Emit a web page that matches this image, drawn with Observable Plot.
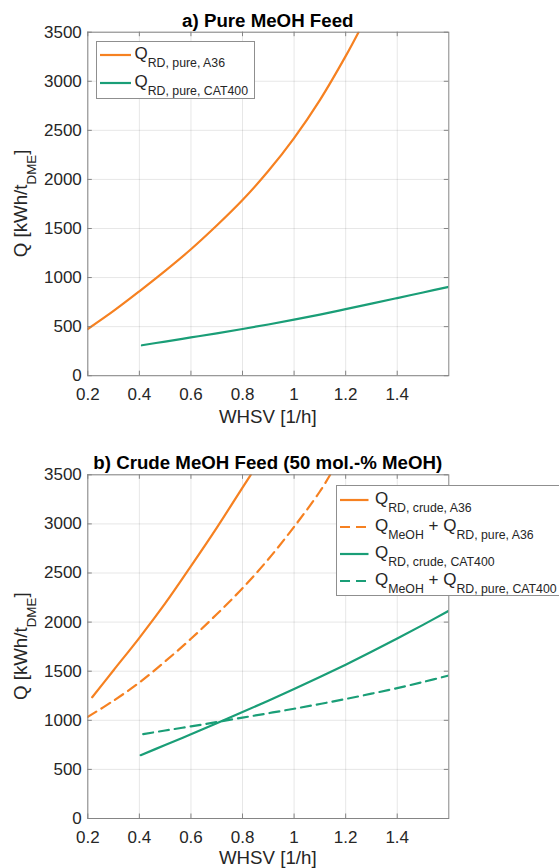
<!DOCTYPE html>
<html><head><meta charset="utf-8">
<script src="https://cdn.jsdelivr.net/npm/d3@7"></script>
<script src="https://cdn.jsdelivr.net/npm/@observablehq/plot@0.6"></script>
<style>
html,body{margin:0;padding:0;background:#fff;}
#root{position:relative;width:559px;height:868px;overflow:hidden;background:#fff;}
#root svg{position:absolute;left:0;}
</style></head><body><div id="root"></div>
<script>
// ---- axis ticks ----
const xDomain = [0.2, 1.6];
const yDomain = [0, 3500];
const xTicks = [0.2, 0.4, 0.6, 0.8, 1, 1.2, 1.4];
const yTicks = [0, 500, 1000, 1500, 2000, 2500, 3000, 3500];

// ---- text ----
const titleA = "a) Pure MeOH Feed";
const titleB = "b) Crude MeOH Feed (50 mol.-% MeOH)";
const xLabel = "WHSV [1/h]";
const yLabelParts = [["Q [kWh/t", 0], ["DME", 1], ["]", 0]];

// ---- panel a data ----
const pureA36_x = [0.2, 0.3, 0.4, 0.5, 0.6, 0.7, 0.8, 0.9, 1.0, 1.1, 1.2, 1.25];
const pureA36_q = [476, 660, 860, 1068, 1288, 1530, 1790, 2085, 2421, 2808, 3256, 3500];
const pureCAT_x = [0.41, 0.5, 0.6, 0.7, 0.8, 0.9, 1.0, 1.1, 1.2, 1.3, 1.4, 1.5, 1.6];
const pureCAT_q = [310, 348, 390, 432, 476, 522, 571, 623, 678, 734, 791, 848, 905];

// ---- panel b data ----
const crudeA36_x = [0.217, 0.3, 0.4, 0.5, 0.6, 0.7, 0.8, 0.832];
const crudeA36_q = [1235, 1510, 1840, 2190, 2570, 2960, 3370, 3500];
const sumA36_x = [0.2, 0.3, 0.4, 0.5, 0.6, 0.7, 0.8, 0.9, 1.0, 1.1, 1.14];
const sumA36_q = [1035, 1200, 1385, 1600, 1830, 2080, 2345, 2640, 2970, 3330, 3500];
const crudeCAT_x = [0.405, 0.5, 0.6, 0.7, 0.8, 0.9, 1.0, 1.1, 1.2, 1.3, 1.4, 1.5, 1.6];
const crudeCAT_q = [645, 748, 858, 970, 1084, 1200, 1318, 1440, 1566, 1697, 1833, 1972, 2115];
const sumCAT_x = [0.415, 0.5, 0.6, 0.7, 0.8, 0.9, 1.0, 1.1, 1.2, 1.3, 1.4, 1.5, 1.6];
const sumCAT_q = [860, 896, 938, 982, 1027, 1072, 1118, 1166, 1217, 1271, 1328, 1390, 1456];

// ---- legend labels ([text, isSubscript]) ----
const legA = [
  [["Q", 0], ["RD, pure, A36", 1]],
  [["Q", 0], ["RD, pure, CAT400", 1]]
];
const legB = [
  [["Q", 0], ["RD, crude, A36", 1]],
  [["Q", 0], ["MeOH", 1], [" + Q", 0], ["RD, pure, A36", 1]],
  [["Q", 0], ["RD, crude, CAT400", 1]],
  [["Q", 0], ["MeOH", 1], [" + Q", 0], ["RD, pure, CAT400", 1]]
];

const ORANGE = "#f68121";
const GREEN = "#1a9e77";
const FRAME = "#858585";
const TEXT = "#262626";
const FONT = '"Liberation Sans", Arial, Helvetica, sans-serif';
const DASH = "10,6";

const seriesA = [
  {x: pureA36_x, q: pureA36_q, color: ORANGE, dash: false},
  {x: pureCAT_x, q: pureCAT_q, color: GREEN, dash: false}
];
const seriesB = [
  {x: crudeA36_x, q: crudeA36_q, color: ORANGE, dash: false},
  {x: sumA36_x, q: sumA36_q, color: ORANGE, dash: true},
  {x: crudeCAT_x, q: crudeCAT_q, color: GREEN, dash: false},
  {x: sumCAT_x, q: sumCAT_q, color: GREEN, dash: true}
];

const W = 559, ML = 87.3, MR = 110.7;

function makePanel({height, marginTop, marginBottom, series}) {
  const plotH = height - marginTop - marginBottom;
  const plotW = W - ML - MR;
  const T = 4.5;
  return Plot.plot({
    width: W, height, marginLeft: ML, marginRight: MR, marginTop, marginBottom,
    x: {domain: xDomain},
    y: {domain: yDomain},
    style: {fontFamily: FONT, fontSize: "17px", color: TEXT, background: "transparent", overflow: "visible"},
    marks: [
      Plot.gridX(xTicks, {stroke: "#262626", strokeOpacity: 0.11}),
      Plot.gridY(yTicks, {stroke: "#262626", strokeOpacity: 0.11}),
      ...series.map(s => Plot.line(s.x.map((x, i) => ({x, q: s.q[i]})), {
        x: "x", y: "q", stroke: s.color, strokeWidth: 2.2,
        strokeDasharray: s.dash ? DASH : undefined, curve: "catmull-rom", clip: true
      })),
      Plot.tickX(xTicks, {x: d => d, insetTop: plotH - T, stroke: FRAME}),
      Plot.tickX(xTicks, {x: d => d, insetBottom: plotH - T, stroke: FRAME}),
      Plot.tickY(yTicks, {y: d => d, insetRight: plotW - T, stroke: FRAME}),
      Plot.tickY(yTicks, {y: d => d, insetLeft: plotW - T, stroke: FRAME}),
      Plot.frame({stroke: FRAME}),
      Plot.axisX(xTicks, {tickSize: 0, tickPadding: 12, label: null, tickFormat: d => String(d)}),
      Plot.axisY(yTicks, {tickSize: 0, tickPadding: 6, label: null, tickFormat: d => String(d)})
    ]
  });
}

const root = document.getElementById("root");
const pa = makePanel({height: 430, marginTop: 31.7, marginBottom: 54.8, series: seriesA});
pa.style.top = "0px";
root.appendChild(pa);
const pb = makePanel({height: 438, marginTop: 44.3, marginBottom: 50, series: seriesB});
pb.style.top = "430px";
root.appendChild(pb);

// ---- overlay texts & legends ----
const ov = d3.select(root).append("svg")
  .attr("width", W).attr("height", 868).style("top", "0px")
  .attr("font-family", FONT).style("white-space", "pre");

const cx = ML + (W - ML - MR) / 2;

function addRich(t, parts, mainSize, subSize, shift) {
  let down = false;
  parts.forEach(([s, sub]) => {
    const ts = t.append("tspan").text(s).attr("font-size", sub ? subSize : mainSize);
    if (sub && !down) { ts.attr("dy", shift); down = true; }
    else if (!sub && down) { ts.attr("dy", -shift); down = false; }
  });
}

[[titleA, 26.5], [titleB, 469]].forEach(([s, y]) => {
  ov.append("text").attr("x", cx).attr("y", y).attr("text-anchor", "middle")
    .attr("font-size", 18.7).attr("font-weight", "bold").attr("fill", "#000").text(s);
});
[423, 864].forEach(y => {
  ov.append("text").attr("x", cx).attr("y", y).attr("text-anchor", "middle")
    .attr("font-size", 18.7).attr("fill", TEXT).text(xLabel);
});
[203.4, 646.2].forEach(yc => {
  const t = ov.append("text").attr("transform", `translate(26.5,${yc}) rotate(-90)`)
    .attr("text-anchor", "middle").attr("fill", TEXT);
  addRich(t, yLabelParts, 18.7, 13.4, 9.3);
});

function legend(labels, styles, {x, y, w, h, row0, step, sw0, sw1, tx}) {
  const g = ov.append("g");
  g.append("rect").attr("x", x + 0.5).attr("y", y + 0.5).attr("width", w).attr("height", h)
    .attr("fill", "#fff").attr("stroke", "#8f8f8f").attr("stroke-width", 1);
  labels.forEach((parts, i) => {
    const ry = row0 + i * step;
    g.append("line").attr("x1", sw0).attr("x2", sw1).attr("y1", ry).attr("y2", ry)
      .attr("stroke", styles[i].color).attr("stroke-width", 2.2)
      .attr("stroke-dasharray", styles[i].dash ? DASH : null);
    const t = g.append("text").attr("x", tx).attr("y", ry + 4).attr("fill", TEXT);
    addRich(t, parts, 17, 12.3, 7.5);
  });
}
legend(legA, seriesA, {x: 96, y: 41, w: 158, h: 57, row0: 55, step: 28, sw0: 100, sw1: 131, tx: 134.5});
legend(legB, seriesB, {x: 336, y: 485, w: 240, h: 110, row0: 500, step: 27, sw0: 340, sw1: 368.5, tx: 375});
</script></body></html>
